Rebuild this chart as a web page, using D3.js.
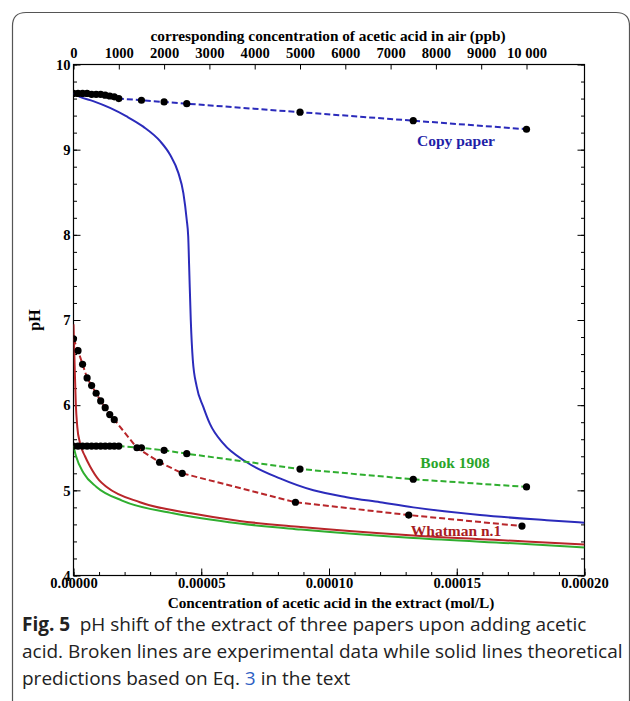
<!DOCTYPE html>
<html>
<head>
<meta charset="utf-8">
<script src="https://cdn.jsdelivr.net/npm/d3@7/dist/d3.min.js"></script>
<style>
  body { margin: 0; background: #fff; }
  .ax text { font-family: "Liberation Serif", "DejaVu Serif", serif; font-weight: bold; font-size: 14.6px; fill: #000; }
</style>
</head>
<body>
<div id="chart"></div>
<script>
// experimental points (x in ppb of acetic acid in air)
var ppbCopy = [0, 100, 200, 300, 400, 500, 600, 700, 800, 900, 1000, 1500, 2000, 2500, 5000, 7500, 10000];
var phCopy = [9.66, 9.66, 9.66, 9.66, 9.65, 9.65, 9.65, 9.64, 9.63, 9.62, 9.60, 9.58, 9.56, 9.54, 9.44, 9.34, 9.24];

var ppbBook = [0, 100, 200, 300, 400, 500, 600, 700, 800, 900, 1000, 1500, 2000, 2500, 5000, 7500, 10000];
var phBook = [5.52, 5.52, 5.52, 5.52, 5.52, 5.52, 5.52, 5.52, 5.52, 5.52, 5.52, 5.50, 5.47, 5.43, 5.25, 5.13, 5.04];

var ppbWhatman = [0, 100, 200, 300, 400, 500, 600, 700, 800, 900, 1400, 1900, 2400, 4900, 7400, 9900];
var phWhatman = [6.78, 6.64, 6.48, 6.32, 6.23, 6.14, 6.05, 5.97, 5.89, 5.83, 5.50, 5.33, 5.20, 4.86, 4.71, 4.58];

// theoretical curves (x in mol/L)
var concCopyTh = [0, 0.0000025, 0.0000077, 0.0000143, 0.0000208, 0.0000273, 0.0000339, 0.0000378, 0.000041, 0.000043, 0.0000443, 0.0000449, 0.0000453, 0.0000459, 0.0000467, 0.0000482, 0.0000508, 0.0000534, 0.0000586, 0.0000678, 0.0000808, 0.0000939, 0.0001069, 0.00012, 0.000133, 0.0001591, 0.0001852, 0.0002];
var phCopyTh = [9.66, 9.62, 9.57, 9.49, 9.39, 9.27, 9.10, 8.94, 8.73, 8.49, 8.18, 7.98, 7.59, 7.00, 6.53, 6.22, 5.98, 5.78, 5.55, 5.33, 5.14, 5.00, 4.92, 4.86, 4.80, 4.71, 4.65, 4.62];

var concWhatmanTh = [0, 0.0000005, 0.0000009, 0.0000015, 0.0000025, 0.0000045, 0.0000065, 0.00001, 0.000013, 0.000026, 0.000046, 0.000065, 0.000089, 0.000133, 0.000177, 0.0002];
var phWhatmanTh = [6.95, 6.41, 6.02, 5.74, 5.56, 5.40, 5.28, 5.12, 5.04, 4.86, 4.73, 4.64, 4.57, 4.47, 4.40, 4.365];

var concBookTh = [0, 0.000001, 0.000004, 0.000009, 0.000019, 0.000039, 0.000065, 0.000089, 0.000133, 0.000177, 0.0002];
var phBookTh = [5.52, 5.40, 5.20, 5.04, 4.88, 4.73, 4.61, 4.54, 4.44, 4.37, 4.33];

// axes
var concTicks = [0, 0.00005, 0.0001, 0.00015, 0.0002];
var concTickLabels = ["0.00000", "0.00005", "0.00010", "0.00015", "0.00020"];
var ppbTicks = [0, 1000, 2000, 3000, 4000, 5000, 6000, 7000, 8000, 9000, 10000];
var ppbTickLabels = ["0", "1000", "2000", "3000", "4000", "5000", "6000", "7000", "8000", "9000", "10 000"];
var phTicks = [4, 5, 6, 7, 8, 9, 10];
var ppbMax = 10000, concAtPpbMax = 0.0001773;

var W = 630, H = 701;
var pLeft = 73.5, pRight = 584.5, pTop = 64.5, pBottom = 575.5;

var svg = d3.select("#chart").append("svg")
    .attr("width", W)
    .attr("height", H);

// outer card border
svg.append("path")
    .attr("d", "M12.5," + H + " L12.5,26 Q12.5,12.5 26,12.5 L616,12.5 Q629.5,12.5 629.5,26 L629.5," + H)
    .attr("fill", "none")
    .attr("stroke", "#555")
    .attr("stroke-width", 1.2);

var x = d3.scaleLinear().domain([0, 0.0002]).range([pLeft, pRight]);
var y = d3.scaleLinear().domain([4, 10]).range([pBottom, pTop]);
var xTop = d3.scaleLinear().domain([0, ppbMax]).range([x(0), x(concAtPpbMax)]);

// minor ticks
svg.append("g").attr("class", "ax")
    .attr("transform", "translate(" + pLeft + ",0)")
    .call(d3.axisLeft(y).tickValues(d3.range(4, 10.01, 0.2)).tickSize(-3.5).tickFormat(""));
svg.append("g").attr("class", "ax")
    .attr("transform", "translate(" + pRight + ",0)")
    .call(d3.axisRight(y).tickValues(d3.range(4, 10.01, 0.2)).tickSize(-3.5).tickFormat(""));
svg.append("g").attr("class", "ax")
    .attr("transform", "translate(0," + pBottom + ")")
    .call(d3.axisBottom(x).tickValues(d3.range(0, 0.00020001, 0.00001)).tickSize(-3.5).tickFormat(""));

// major ticks + labels
svg.append("g").attr("class", "ax")
    .attr("transform", "translate(" + pLeft + ",0)")
    .call(d3.axisLeft(y).tickValues(phTicks).tickSize(-7).tickPadding(3).tickFormat(d3.format("d")));
svg.append("g").attr("class", "ax")
    .attr("transform", "translate(" + pRight + ",0)")
    .call(d3.axisRight(y).tickValues(phTicks).tickSize(-7).tickFormat(""));
svg.append("g").attr("class", "ax")
    .attr("transform", "translate(0," + pBottom + ")")
    .call(d3.axisBottom(x).tickValues(concTicks).tickSize(-7).tickPadding(2)
        .tickFormat(function (d, i) { return concTickLabels[i]; }));
svg.append("g").attr("class", "ax")
    .attr("transform", "translate(0," + pTop + ")")
    .call(d3.axisTop(xTop).tickValues(ppbTicks).tickSize(-5).tickPadding(7)
        .tickFormat(function (d, i) { return ppbTickLabels[i]; }));

svg.selectAll(".ax .domain").remove();
svg.selectAll(".ax line").attr("stroke", "#000").attr("stroke-width", 1);

// plot frame
svg.append("rect")
    .attr("x", pLeft).attr("y", pTop)
    .attr("width", pRight - pLeft).attr("height", pBottom - pTop)
    .attr("fill", "none").attr("stroke", "#000").attr("stroke-width", 1.2);

// axis titles
var serif = "'Liberation Serif', 'DejaVu Serif', serif";
svg.append("text")
    .attr("x", 328).attr("y", 41)
    .attr("text-anchor", "middle")
    .style("font-family", serif).style("font-weight", "bold").style("font-size", "15.3px")
    .text("corresponding concentration of acetic acid in air (ppb)");
svg.append("text")
    .attr("x", 331).attr("y", 608)
    .attr("text-anchor", "middle")
    .style("font-family", serif).style("font-weight", "bold").style("font-size", "15.3px")
    .text("Concentration of acetic acid in the extract (mol/L)");
svg.append("text")
    .attr("transform", "translate(40,320) rotate(-90)")
    .attr("text-anchor", "middle")
    .style("font-family", serif).style("font-weight", "bold").style("font-size", "16px")
    .text("pH");

svg.append("clipPath").attr("id", "plotclip")
    .append("rect").attr("x", pLeft).attr("y", pTop)
    .attr("width", pRight - pLeft).attr("height", pBottom - pTop);

var plot = svg.append("g").attr("clip-path", "url(#plotclip)");

var blue = "#2b2bbb", red = "#b8262a", green = "#2fae2f";

function theory(xs, ys, color) {
    var pts = xs.map(function (d, i) { return [x(d), y(ys[i])]; });
    plot.append("path")
        .attr("d", d3.line().curve(d3.curveMonotoneX)(pts))
        .attr("fill", "none")
        .attr("stroke", color)
        .attr("stroke-width", 2);
}

theory(concBookTh, phBookTh, green);
theory(concWhatmanTh, phWhatmanTh, red);
theory(concCopyTh, phCopyTh, blue);

function experiment(xs, ys, color) {
    var pts = xs.map(function (d, i) { return [xTop(d), y(ys[i])]; });
    plot.append("path")
        .attr("d", d3.line()(pts))
        .attr("fill", "none")
        .attr("stroke", color)
        .attr("stroke-width", 2)
        .attr("stroke-dasharray", "6,3");
    plot.selectAll(null)
        .data(pts)
        .enter()
        .append("circle")
        .attr("cx", function (d) { return d[0]; })
        .attr("cy", function (d) { return d[1]; })
        .attr("r", 3.6)
        .attr("fill", "#000");
}

experiment(ppbCopy, phCopy, blue);
experiment(ppbBook, phBook, green);
experiment(ppbWhatman, phWhatman, red);

// series labels
function label(txt, cx, cy, color) {
    svg.append("text")
        .attr("x", cx).attr("y", cy)
        .attr("text-anchor", "middle")
        .style("font-family", serif).style("font-weight", "bold").style("font-size", "15.5px")
        .attr("fill", color)
        .text(txt);
}
label("Copy paper", 456, 146, "#1f1fa8");
label("Book 1908", 455, 468, "#2aa52a");
label("Whatman n.1", 456, 536, "#a81c22");

// caption
var cap = svg.append("g")
    .style("font-family", "'Open Sans', 'Noto Sans', sans-serif")
    .style("font-size", "19px")
    .attr("fill", "#222");
var l1 = cap.append("text").attr("x", 22).attr("y", 631);
l1.append("tspan").style("font-weight", "bold").text("Fig. 5");
l1.append("tspan").text("\u2002pH shift of the extract of three papers upon adding acetic");
cap.append("text").attr("x", 22).attr("y", 658)
    .text("acid. Broken lines are experimental data while solid lines theoretical");
var l3 = cap.append("text").attr("x", 22).attr("y", 685);
l3.append("tspan").text("predictions based on Eq.\u00a0");
l3.append("tspan").attr("fill", "#2f5fc4").text("3");
l3.append("tspan").text(" in the text");
</script>
</body>
</html>
